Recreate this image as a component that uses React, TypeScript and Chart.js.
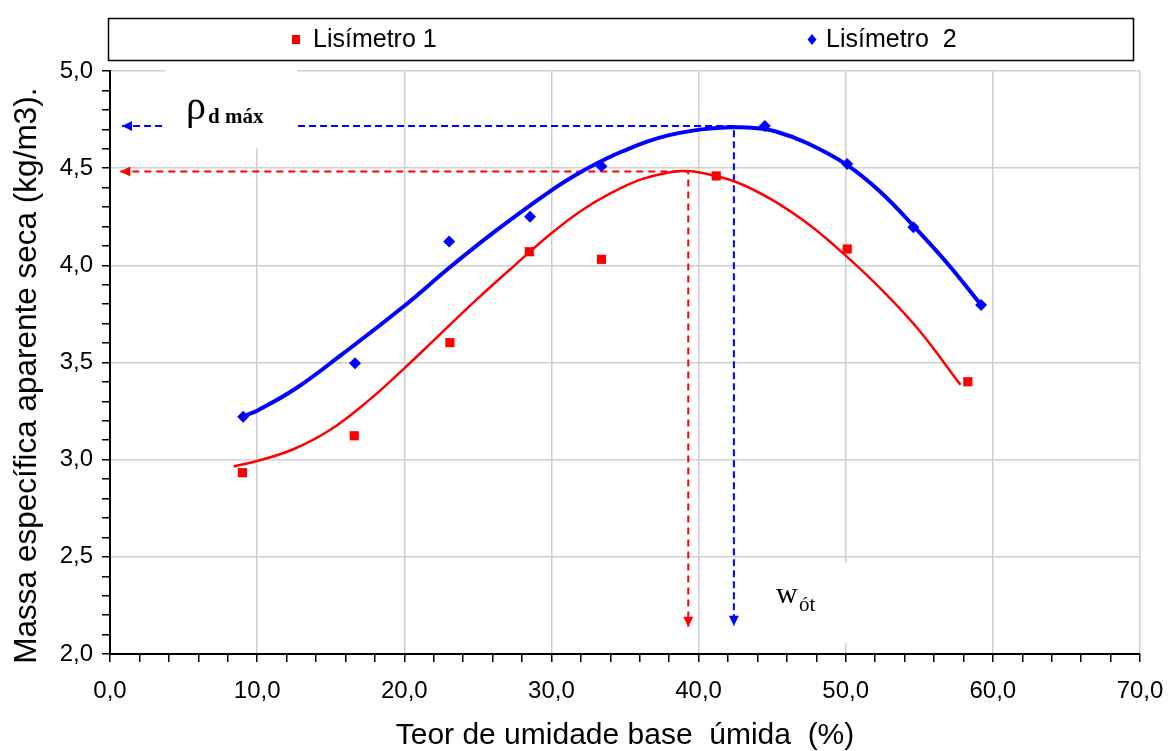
import React, { useEffect, useRef } from 'react';
import { Chart, registerables } from 'chart.js';

Chart.register(...registerables);

// ---- measured points ----
const lis1X = [9.0, 16.6, 23.1, 28.5, 33.4, 41.2, 50.1, 58.3];
const lis1Y = [2.933, 3.123, 3.602, 4.07, 4.031, 4.46, 4.084, 3.401];
const lis2X = [9.05, 16.65, 23.05, 28.55, 33.4, 44.5, 50.1, 54.6, 59.2];
const lis2Y = [3.221, 3.496, 4.122, 4.25, 4.51, 4.717, 4.521, 4.196, 3.796];

// ---- trend curves ----
const trend1X = [8.4, 10, 12.5, 15, 17.5, 20, 22.5, 25, 27.5, 30, 32, 34, 36, 38, 39, 40, 42.5, 45, 47.5, 50, 52.5, 55, 57.8];
const trend1Y = [2.965, 2.993, 3.055, 3.155, 3.3, 3.47, 3.65, 3.83, 4.0, 4.165, 4.28, 4.37, 4.44, 4.478, 4.485, 4.479, 4.43, 4.337, 4.21, 4.05, 3.87, 3.665, 3.385];
const trend2X = [9.05, 10.1, 12.7, 15.65, 19.95, 23.1, 26.3, 30.05, 32.0, 34.0, 35.0, 36.5, 38.0, 39.5, 41.0, 42.4, 43.8, 45.2, 47.4, 50.1, 52.4, 54.65, 56.9, 59.2];
const trend2Y = [3.222, 3.256, 3.37, 3.535, 3.788, 3.99, 4.182, 4.388, 4.48, 4.559, 4.592, 4.637, 4.67, 4.692, 4.705, 4.71, 4.707, 4.69, 4.628, 4.516, 4.375, 4.199, 4.011, 3.796];

// ---- guide lines (max density / optimum moisture) ----
const guideStartX = [0.7, 0.82];       // left arrow tips (Lisímetro 1, Lisímetro 2)
const rhoMax = [4.483, 4.717];         // horizontal guide levels
const wOpt = [39.3, 42.4];             // vertical guide positions
const guideEndY = [2.14, 2.145];       // bottom arrow tips

const seriesNames = ['Lisímetro 1', 'Lisímetro  2'];
const xTitle = 'Teor de umidade base  úmida  (%)';
const yTitle = 'Massa específica aparente seca (kg/m3).   ';

const RED = '#ff0000';
const BLUE = '#0000ff';
const FONT = '"Liberation Sans", Arial, sans-serif';
const SERIF = '"Liberation Serif", "Times New Roman", serif';

const pts = (xs: number[], ys: number[]) => xs.map((x, i) => ({ x, y: ys[i] }));
const fmt = (v: number) => v.toFixed(1).replace('.', ',');
const isMul = (v: number, m: number) => Math.abs(v / m - Math.round(v / m)) < 1e-6;

export default function App() {
  const ref = useRef<HTMLCanvasElement>(null);

  useEffect(() => {
    document.body.style.margin = '0';
    const canvas = ref.current;
    if (!canvas) return;

    const overlay = {
      id: 'overlay',
      afterDatasetsDraw(chart: any) {
        const ctx = chart.ctx;
        const xs = chart.scales.x;
        const ys = chart.scales.y;
        const colors = [RED, BLUE];
        ctx.save();
        // arrowheads
        for (let i = 0; i < 2; i++) {
          ctx.fillStyle = colors[i];
          const lx = xs.getPixelForValue(guideStartX[i]);
          const ly = ys.getPixelForValue(rhoMax[i]);
          ctx.beginPath();
          ctx.moveTo(lx, ly);
          ctx.lineTo(lx + 10, ly - 5);
          ctx.lineTo(lx + 10, ly + 5);
          ctx.closePath();
          ctx.fill();
          const dx = xs.getPixelForValue(wOpt[i]);
          const dy = ys.getPixelForValue(guideEndY[i]);
          ctx.beginPath();
          ctx.moveTo(dx, dy);
          ctx.lineTo(dx - 5, dy - 10);
          ctx.lineTo(dx + 5, dy - 10);
          ctx.closePath();
          ctx.fill();
        }
        // white label boxes
        ctx.fillStyle = '#ffffff';
        ctx.fillRect(165, 60, 132, 88);
        ctx.fillRect(750, 563, 125, 80);
        // labels
        ctx.fillStyle = '#000000';
        ctx.textBaseline = 'alphabetic';
        ctx.textAlign = 'left';
        ctx.font = `40px ${SERIF}`;
        ctx.fillText('ρ', 186, 119);
        ctx.font = `bold 21px ${SERIF}`;
        ctx.fillText('d máx', 208, 123);
        ctx.font = `30px ${SERIF}`;
        ctx.fillText('w', 776, 603);
        ctx.font = `21px ${SERIF}`;
        ctx.fillText('ót', 799, 611);
        ctx.restore();
      },
      afterDraw(chart: any) {
        const ctx = chart.ctx;
        ctx.save();
        ctx.fillStyle = '#ffffff';
        ctx.fillRect(108, 18, 1025, 42);
        ctx.strokeStyle = '#000000';
        ctx.lineWidth = 1.5;
        ctx.strokeRect(108.5, 18.5, 1025, 42);
        // markers
        ctx.fillStyle = RED;
        ctx.fillRect(292, 35, 8, 9);
        ctx.fillStyle = BLUE;
        ctx.beginPath();
        ctx.moveTo(812, 34);
        ctx.lineTo(816.5, 39.5);
        ctx.lineTo(812, 45);
        ctx.lineTo(807.5, 39.5);
        ctx.closePath();
        ctx.fill();
        ctx.fillStyle = '#000000';
        ctx.font = `25px ${FONT}`;
        ctx.textBaseline = 'middle';
        ctx.textAlign = 'left';
        ctx.fillText(seriesNames[0], 313, 40);
        ctx.fillText(seriesNames[1], 826, 40);
        ctx.restore();
      },
    };

    const chart = new Chart(canvas, {
      type: 'scatter',
      data: {
        datasets: [
          {
            label: seriesNames[1],
            data: pts(lis2X, lis2Y),
            pointStyle: 'rectRot',
            pointRadius: 6,
            backgroundColor: BLUE,
            borderColor: BLUE,
            borderWidth: 0,
          },
          {
            label: seriesNames[0],
            data: pts(lis1X, lis1Y),
            pointStyle: 'rect',
            pointRadius: 6.5,
            backgroundColor: RED,
            borderColor: RED,
            borderWidth: 0,
          },
          {
            label: 'trend2',
            data: pts(trend2X, trend2Y),
            showLine: true,
            borderColor: BLUE,
            borderWidth: 4,
            pointRadius: 0,
            tension: 0.4,
          },
          {
            label: 'trend1',
            data: pts(trend1X, trend1Y),
            showLine: true,
            borderColor: RED,
            borderWidth: 2.5,
            pointRadius: 0,
            tension: 0.4,
          },
          {
            label: 'guide2',
            data: [
              { x: guideStartX[1], y: rhoMax[1] },
              { x: wOpt[1], y: rhoMax[1] },
              { x: wOpt[1], y: guideEndY[1] },
            ],
            showLine: true,
            borderColor: BLUE,
            borderWidth: 2,
            borderDash: [7, 4],
            pointRadius: 0,
            tension: 0,
          },
          {
            label: 'guide1',
            data: [
              { x: guideStartX[0], y: rhoMax[0] },
              { x: wOpt[0], y: rhoMax[0] },
              { x: wOpt[0], y: guideEndY[0] },
            ],
            showLine: true,
            borderColor: RED,
            borderWidth: 2,
            borderDash: [7, 5],
            pointRadius: 0,
            tension: 0,
          },
        ],
      },
      options: {
        responsive: false,
        animation: false,
        events: [],
        layout: { padding: { top: 71, right: 28, left: 0, bottom: 0 } },
        plugins: {
          legend: { display: false },
          tooltip: { enabled: false },
        },
        scales: {
          x: {
            type: 'linear',
            min: 0,
            max: 70,
            ticks: {
              stepSize: 2,
              autoSkip: false,
              maxRotation: 0,
              padding: 15,
              color: '#000',
              font: { family: FONT, size: 24 },
              callback: (v: any) => (isMul(Number(v), 10) ? fmt(Number(v)) : ''),
            },
            grid: {
              color: (c: any) => (c.tick && isMul(c.tick.value, 10) ? '#d0d0d0' : 'rgba(0,0,0,0)'),
              lineWidth: 1.5,
              tickColor: '#000',
              tickLength: 8,
              tickWidth: 1.5,
            },
            border: { color: '#000', width: 2 },
            title: {
              display: true,
              text: xTitle,
              color: '#000',
              font: { family: FONT, size: 30, lineHeight: 0.8 },
              padding: { top: 0, bottom: 3 },
            },
            afterFit: (s: any) => {
              s.height = 97;
              s.paddingLeft = 0;
              s.paddingRight = 0;
            },
          },
          y: {
            type: 'linear',
            min: 2,
            max: 5,
            ticks: {
              stepSize: 0.1,
              autoSkip: false,
              padding: 9,
              color: '#000',
              font: { family: FONT, size: 24 },
              callback: (v: any) => (isMul(Number(v), 0.5) ? fmt(Number(v)) : ''),
            },
            grid: {
              color: (c: any) => (c.tick && isMul(c.tick.value, 0.5) ? '#d0d0d0' : 'rgba(0,0,0,0)'),
              lineWidth: 1.5,
              tickColor: '#000',
              tickLength: 8,
              tickWidth: 1.5,
            },
            border: { color: '#000', width: 2 },
            title: {
              display: true,
              text: yTitle,
              color: '#000',
              font: { family: FONT, size: 31.5, lineHeight: 0.8 },
              padding: { top: 15, bottom: 0 },
            },
            afterFit: (s: any) => {
              s.width = 110;
              s.paddingTop = 0;
              s.paddingBottom = 0;
            },
          },
        },
      },
      plugins: [overlay],
    } as any);

    return () => chart.destroy();
  }, []);

  return <canvas ref={ref} width={1168} height={751} style={{ display: 'block' }} />;
}
